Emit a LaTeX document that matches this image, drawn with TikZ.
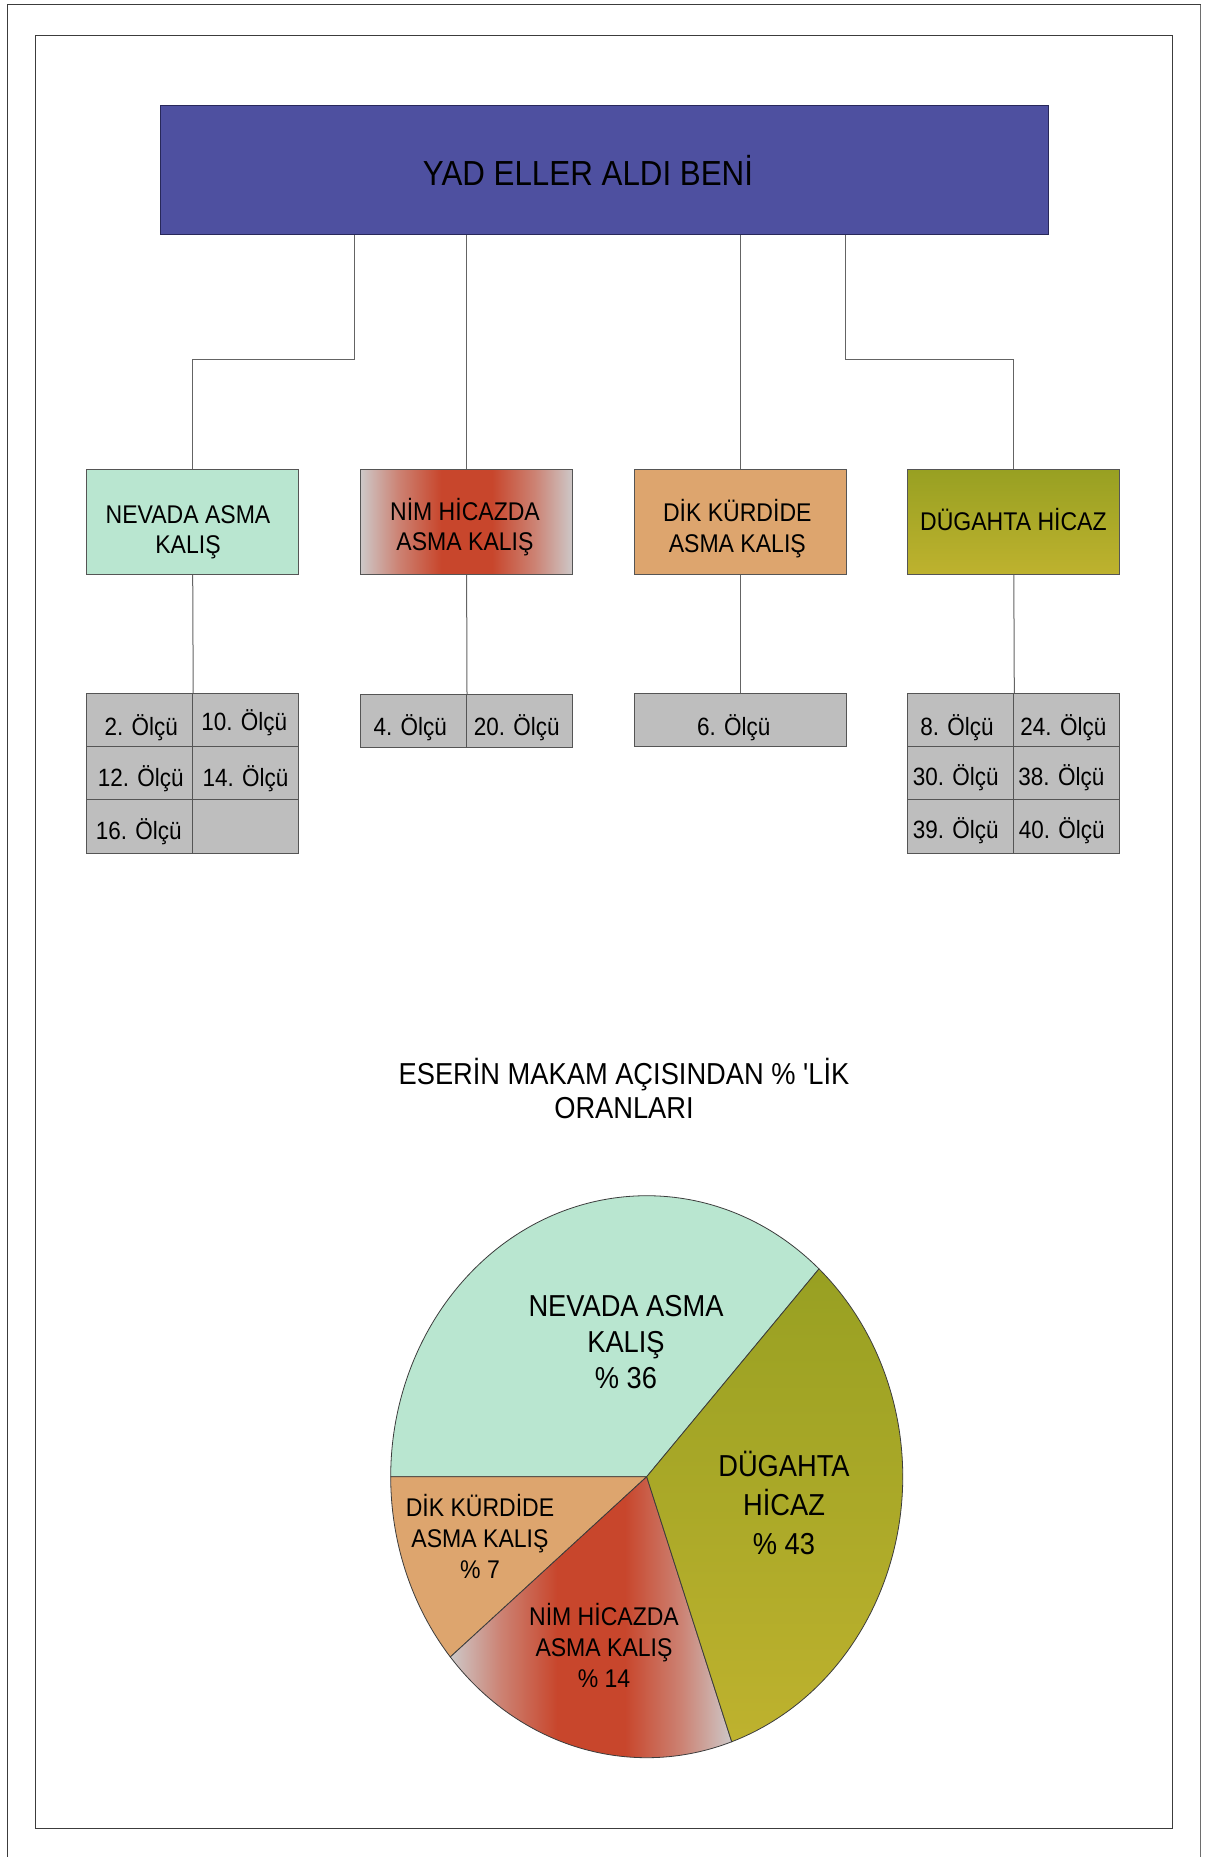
\documentclass[tikz,border=0pt]{standalone}
\usepackage{fontspec}
\setmainfont{Liberation Sans}[FakeStretch=0.9,Ligatures=TeXOff]

% palette
\definecolor{rootblue}{RGB}{78,80,160}
\definecolor{rootedge}{RGB}{40,40,90}
\definecolor{mintfill}{RGB}{185,230,208}
\definecolor{tanfill}{RGB}{221,165,110}
\definecolor{cellgray}{RGB}{190,190,190}
\definecolor{nimred}{RGB}{200,70,44}
\definecolor{nimpink}{RGB}{204,130,115}
\definecolor{nimgray}{RGB}{205,200,200}
\definecolor{olivetop}{RGB}{152,160,34}
\definecolor{olivebot}{RGB}{190,178,46}
\definecolor{wire}{RGB}{100,100,100}
\definecolor{edgegray}{RGB}{85,85,85}
\definecolor{framegray}{RGB}{60,60,60}
\definecolor{framelight}{RGB}{110,110,110}
\definecolor{pieline}{RGB}{60,60,60}

% grey - red - grey band used for the "NIM HICAZDA" fills
\pgfdeclarehorizontalshading{nimband}{100bp}{%
  color(0bp)=(nimgray); color(25bp)=(nimgray); color(34bp)=(nimpink);
  color(44bp)=(nimred); color(56bp)=(nimred); color(66bp)=(nimpink);
  color(75bp)=(nimgray); color(100bp)=(nimgray)}

% centred block of lines, anchored on the baseline of its first line
\newcommand\lblock[1]{\vtop{\lineskiplimit=-\maxdimen\halign{\hfil##\hfil\cr#1\crcr}}}

\tikzset{
  catbox/.style={rectangle, draw=edgegray, line width=1pt, inner sep=0pt,
                 minimum width=212pt, minimum height=104.6pt},
  cellbox/.style={rectangle, draw=edgegray, fill=cellgray, line width=1pt,
                  inner sep=0pt, minimum width=106pt, minimum height=53.3pt},
  conn/.style={draw=wire, line width=1pt},
  txt/.style={anchor=base, inner sep=0pt, text=black},
  boxtxt/.style={txt, font=\fontsize{25.6}{30.3}\selectfont},
  celltxt/.style={txt, font=\fontsize{25}{30}\selectfont},
  pietxt/.style={txt, font=\fontsize{25.6}{31}\selectfont},
  piedge/.style={draw=pieline, line width=0.8pt},
}

\begin{document}
\begin{tikzpicture}[x=1pt,y=-1pt]
\useasboundingbox (0,0) rectangle (1208,1857);
\fill[white] (0,0) rectangle (1208,1857);

% page frames
\draw[framegray, line width=1.3pt] (7.3,1857) -- (7.3,4.7) -- (1200.7,4.7);
\draw[framelight, line width=1.3pt] (1200.7,4.7) -- (1200.7,1857);
\draw[framegray, line width=1.3pt] (35.5,35.3) rectangle (1172.5,1828.3);

% title box
\node[rectangle, draw=rootedge, fill=rootblue, line width=1pt, inner sep=0pt,
      minimum width=888pt, minimum height=129pt] (root) at (604.3,170.2) {};
\node[txt, font=\fontsize{34.8}{40}\selectfont] (roottxt) at (588,185) {YAD ELLER ALDI BENİ};

% category boxes
\node[catbox, fill=mintfill] (nevada) at (192.7,522) {};
\node[catbox, shading=nimband] (nim) at (466.6,522) {};
\node[catbox, fill=tanfill] (dik) at (740.2,522) {};
\node[catbox, top color=olivetop, bottom color=olivebot] (dug) at (1013.8,522) {};

\node[boxtxt] (nevadatxt) at (188,523.3) {\lblock{NEVADA ASMA\cr KALIŞ}};
\node[boxtxt] (nimtxt) at (465,520) {\lblock{NİM HİCAZDA\cr ASMA KALIŞ}};
\node[boxtxt] (diktxt) at (737.3,521.7) {\lblock{DİK KÜRDİDE\cr ASMA KALIŞ}};
\node[boxtxt] (dugtxt) at (1013.4,530) {DÜGAHTA HİCAZ};

% measure cells
\node[cellbox] (n11) at (139.7,720) {};
\node[cellbox] (n12) at (245.7,720) {};
\node[cellbox] (n21) at (139.7,773.3) {};
\node[cellbox] (n22) at (245.7,773.3) {};
\node[cellbox] (n31) at (139.7,826.6) {};
\node[cellbox] (n32) at (245.7,826.6) {};

\node[cellbox, minimum height=53pt] (m1) at (413.5,720.8) {};
\node[cellbox, minimum height=53pt] (m2) at (519.5,720.8) {};

\node[cellbox, minimum width=212pt] (d1) at (740.2,720) {};

\node[cellbox] (g11) at (960.8,720) {};
\node[cellbox] (g12) at (1066.8,720) {};
\node[cellbox] (g21) at (960.8,773.3) {};
\node[cellbox] (g22) at (1066.8,773.3) {};
\node[cellbox] (g31) at (960.8,826.6) {};
\node[cellbox] (g32) at (1066.8,826.6) {};

\node[celltxt] (t2) at (141.3,735.7) {2. Ölçü};
\node[celltxt] (t10) at (244.2,730) {10. Ölçü};
\node[celltxt] (t12) at (140.8,786) {12. Ölçü};
\node[celltxt] (t14) at (245.5,786) {14. Ölçü};
\node[celltxt] (t16) at (138.7,839) {16. Ölçü};
\node[celltxt] (t4) at (410.3,735.7) {4. Ölçü};
\node[celltxt] (t20) at (516.7,735.7) {20. Ölçü};
\node[celltxt] (t6) at (733.8,735.5) {6. Ölçü};
\node[celltxt] (t8) at (957,735.5) {8. Ölçü};
\node[celltxt] (t24) at (1063.4,735.5) {24. Ölçü};
\node[celltxt] (t30) at (955.8,785.5) {30. Ölçü};
\node[celltxt] (t38) at (1061.4,785.5) {38. Ölçü};
\node[celltxt] (t39) at (955.8,838.5) {39. Ölçü};
\node[celltxt] (t40) at (1061.8,838.5) {40. Ölçü};

% connectors
\coordinate (busL) at (0,359.3);
\coordinate (tapA) at (354.3,0);
\coordinate (tapD) at (845.9,0);
\draw[conn] (root.south -| tapA) |- (busL -| nevada.north) -- (nevada.north);
\draw[conn] (root.south -| nim.north) -- (nim.north);
\draw[conn] (root.south -| dik.north) -- (dik.north);
\draw[conn] (root.south -| tapD) |- (busL -| dug.north) -- (dug.north);
\draw[conn] (nevada.south) -- (n11.north east);
\draw[conn] (nim.south) -- (m1.north east);
\draw[conn] (dik.south) -- (d1.north);
\draw[conn] (dug.south) -- (g11.north east);

% chart heading
\node[txt, font=\fontsize{30.3}{34}\selectfont] (charttitle) at (624,1084)
  {\lblock{ESERİN MAKAM AÇISINDAN \% 'LİK\cr ORANLARI}};

% pie chart
\begin{scope}[shift={(646.7,1476.7)}, yscale=-1]
  \filldraw[piedge, fill=mintfill] (0,0) -- (47.7:256 and 281)
    arc[start angle=47.7, end angle=180, x radius=256, y radius=281] -- cycle;
  \filldraw[piedge, fill=tanfill] (0,0) -- (180:256 and 281)
    arc[start angle=180, end angle=219.9, x radius=256, y radius=281] -- cycle;
  \shadedraw[piedge, shading=nimband] (0,0) -- (219.9:256 and 281)
    arc[start angle=219.9, end angle=289.4, x radius=256, y radius=281] -- cycle;
  \shadedraw[piedge, top color=olivetop, bottom color=olivebot] (0,0) -- (289.4:256 and 281)
    arc[start angle=289.4, end angle=407.7, x radius=256, y radius=281] -- cycle;
\end{scope}

\node[txt, font=\fontsize{30.3}{36}\selectfont] (pnev) at (626,1316.7)
  {\lblock{NEVADA ASMA\cr KALIŞ\cr \% 36}};
\node[txt, font=\fontsize{30.3}{39}\selectfont] (pdug) at (784,1476)
  {\lblock{DÜGAHTA\cr HİCAZ\cr \% 43}};
\node[pietxt] (pdik) at (480,1516.7) {\lblock{DİK KÜRDİDE\cr ASMA KALIŞ\cr \% 7}};
\node[pietxt] (pnim) at (604,1625) {\lblock{NİM HİCAZDA\cr ASMA KALIŞ\cr \% 14}};
\end{tikzpicture}
\end{document}
